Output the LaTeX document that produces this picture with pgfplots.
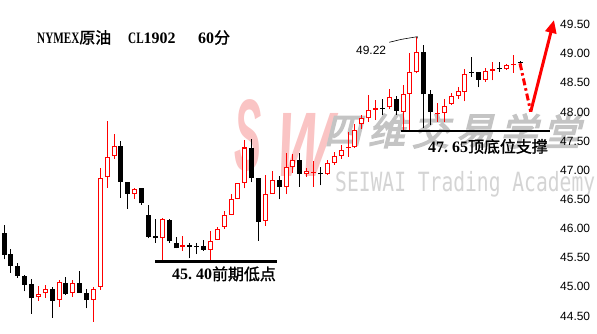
\documentclass[border=0pt]{standalone}
\usepackage{fontspec}
\setmainfont{Liberation Sans}
\newfontfamily\cjk[FakeBold=1.5]{Noto Sans CJK SC}
\newfontfamily\cjkwm[FakeBold=4]{Noto Sans CJK SC}
\newfontfamily\serifb{Liberation Serif}
\newfontfamily\serifn[FakeStretch=0.7]{Liberation Serif}
\newfontfamily\wmmono{DejaVu Sans Mono}
\usepackage{pgfplots}
\pgfplotsset{compat=1.18}
\usepackage{pgfplotstable}
\usetikzlibrary{arrows.meta}
\definecolor{candred}{RGB}{255,0,0}
\definecolor{wmpink}{RGB}{250,196,196}
\definecolor{wmgray}{RGB}{196,196,196}
\definecolor{wmgray2}{RGB}{212,212,212}

% i open high low close
\pgfplotstableread{
i o h l c
0 45.92 46.06 45.47 45.55
1 45.56 45.65 45.24 45.36
2 45.36 45.41 45.16 45.19
3 45.19 45.20 44.92 45.04
4 45.05 45.14 44.54 44.80
7 44.96 44.99 44.47 44.76
9 45.07 45.17 44.86 44.87
11 45.07 45.27 44.90 44.90
12 44.90 44.96 44.63 44.77
17 47.42 47.50 46.53 46.80
18 46.80 46.80 46.34 46.60
20 46.70 46.70 46.41 46.43
21 46.23 46.40 45.83 45.86
22 45.87 46.17 45.76 45.83
24 46.15 46.16 45.76 45.78
25 45.76 45.86 45.66 45.66
27 45.71 45.76 45.49 45.69
28 45.70 45.75 45.56 45.68
29 45.70 45.80 45.62 45.64
36 47.38 47.53 46.79 46.86
37 46.86 46.86 45.79 46.12
40 46.83 46.90 46.50 46.72
43 47.18 47.29 46.72 46.94
46 46.95 47.06 46.74 46.93
55 48.07 48.22 47.95 48.05
57 48.23 48.27 47.95 48.02
61 49.02 49.15 47.72 48.30
62 48.30 48.38 47.78 48.00
68 48.69 48.94 48.60 48.67
69 48.68 48.69 48.42 48.55
72 48.76 48.86 48.69 48.74
75 48.86 48.88 48.80 48.84
}\tdown

\pgfplotstableread{
i o h l c
5 44.82 45.01 44.76 44.87
6 44.89 45.03 44.81 44.97
8 44.77 45.12 44.66 45.08
10 44.89 45.12 44.83 45.07
13 44.77 44.99 44.40 44.97
14 45.00 47.03 44.95 46.86
15 46.88 47.85 46.70 47.22
16 47.24 47.62 47.20 47.41
19 46.60 46.70 46.51 46.67
23 45.83 46.18 45.46 46.17
30 45.64 45.96 45.46 45.79
31 45.81 46.02 45.80 46.00
32 46.03 46.30 46.00 46.24
33 46.24 46.60 46.23 46.50
34 46.51 46.78 46.50 46.78
35 46.78 47.52 46.69 47.39
38 46.13 46.92 46.05 46.59
39 46.59 46.99 46.59 46.83
41 46.71 47.29 46.59 47.05
42 47.05 47.27 46.95 47.18
44 46.93 47.03 46.89 46.98
47 46.94 47.18 46.92 47.12
48 47.13 47.31 47.09 47.24
49 47.25 47.43 47.20 47.35
51 47.39 47.80 47.38 47.69
52 47.80 47.94 47.70 47.89
53 47.89 48.29 47.83 48.04
56 48.08 48.39 48.05 48.25
58 48.00 48.46 47.69 48.31
59 48.31 49.01 47.69 48.68
60 48.68 49.28 48.66 49.02
64 47.98 48.22 47.82 48.10
65 48.14 48.32 48.12 48.27
66 48.28 48.42 48.23 48.36
67 48.35 48.74 48.18 48.65
70 48.55 48.75 48.52 48.70
73 48.73 48.83 48.72 48.80
}\tup

\pgfplotstableread{
i o h l c
26 45.69 45.87 45.62 45.71
45 46.95 47.15 46.72 46.97
50 47.38 47.66 47.23 47.40
54 48.04 48.20 47.86 48.06
63 47.97 48.15 47.83 47.99
71 48.71 48.86 48.54 48.73
74 48.81 48.98 48.67 48.83
}\tflat

\begin{document}
\begin{tikzpicture}
\path[use as bounding box] (0,0) rectangle (597bp,334bp);
% watermark
\node[wmpink, inner sep=0, xscale=0.4, font=\fontsize{102}{102}\selectfont\bfseries\itshape] at (248bp,198bp) {S};
\node[wmpink, inner sep=0, xscale=0.64, xslant=0.12, font=\fontsize{92}{92}\selectfont\bfseries\itshape] at (305bp,189bp) {W};
\node[wmgray, inner sep=0, xslant=0.25, font=\fontsize{37}{37}\selectfont\cjkwm] at (346bp,203bp) {四};
\node[wmgray, inner sep=0, xslant=0.25, font=\fontsize{37}{37}\selectfont\cjkwm] at (390bp,203bp) {维};
\node[wmgray, inner sep=0, xslant=0.25, font=\fontsize{37}{37}\selectfont\cjkwm] at (434bp,203bp) {交};
\node[wmgray, inner sep=0, xslant=0.25, font=\fontsize{37}{37}\selectfont\cjkwm] at (478bp,203bp) {易};
\node[wmgray, inner sep=0, xslant=0.25, font=\fontsize{37}{37}\selectfont\cjkwm] at (522bp,203bp) {学};
\node[wmgray, inner sep=0, xslant=0.25, font=\fontsize{37}{37}\selectfont\cjkwm] at (565bp,203bp) {堂};
\node[wmgray2, anchor=base west, inner sep=0, yscale=1.35, font=\fontsize{19.7}{20}\selectfont\wmmono] at (335bp,142bp) {SEIWAI Trading Academy};

\begin{axis}[
  at={(0,0)}, anchor=south west, scale only axis,
  width=556bp, height=334bp,
  xmin=-0.5814, xmax=80.233, ymin=44.191, ymax=49.920,
  axis line style={draw=none}, tick style={draw=none}, major tick length=0pt,
  xtick=\empty,
  ytick={44.5,45,45.5,46,46.5,47,47.5,48,48.5,49,49.5},
  yticklabel pos=right,
  yticklabel style={font=\fontsize{12}{14}\selectfont, anchor=west, inner sep=0pt, xshift=4bp},
  /pgf/number format/fixed, /pgf/number format/fixed zerofill,
  /pgf/number format/precision=2, /pgf/number format/assume math mode=true,
  clip=false,
]
% wicks
\addplot[draw=none, mark=none, forget plot, error bars/.cd, y dir=plus, y explicit, error mark=none,
  error bar style={draw=black, line width=1bp}]
  table[x=i, y=l, y error expr=\thisrow{h}-\thisrow{l}] {\tdown};
\addplot[draw=none, mark=none, forget plot, error bars/.cd, y dir=plus, y explicit, error mark=none,
  error bar style={draw=candred, line width=1bp}]
  table[x=i, y=l, y error expr=\thisrow{h}-\thisrow{l}] {\tup};
\addplot[draw=none, mark=none, forget plot, error bars/.cd, y dir=plus, y explicit, error mark=none,
  error bar style={draw=candred, line width=1bp}]
  table[x=i, y=l, y error expr=\thisrow{h}-\thisrow{l}] {\tflat};
% bodies
\addplot[draw=none, mark=none, forget plot, error bars/.cd, y dir=plus, y explicit, error mark=none,
  error bar style={draw=black, line width=5bp}]
  table[x=i, y=c, y error expr=\thisrow{o}-\thisrow{c}] {\tdown};
\addplot[draw=none, mark=none, forget plot, error bars/.cd, y dir=plus, y explicit, error mark=none,
  error bar style={draw=candred, line width=5bp}]
  table[x=i, y=o, y error expr=\thisrow{c}-\thisrow{o}] {\tup};
\addplot[draw=none, mark=none, forget plot, error bars/.cd, y dir=plus, y explicit, error mark=none,
  error bar style={draw=white, line width=3bp}]
  table[x=i, y expr=\thisrow{o}+0.0172, y error expr=\thisrow{c}-\thisrow{o}-0.0344] {\tup};
\addplot[draw=none, mark=none, forget plot, error bars/.cd, y dir=plus, y explicit, error mark=none,
  error bar style={draw=candred, line width=5bp}]
  table[x=i, y=o, y error expr=\thisrow{c}-\thisrow{o}] {\tflat};
% support lines
\addplot[black, line width=2.5bp, forget plot] coordinates {(21.95,45.438) (39.64,45.438)};
\addplot[black, line width=2.5bp, forget plot] coordinates {(57.66,47.670) (79.36,47.670)};
% 49.22 leader
\addplot[black, line width=0.6bp, forget plot] coordinates {(56.00,49.195) (57.80,49.246) (60.07,49.291) (60.07,49.262)};
% arrow
\addplot[candred, line width=3bp, dash pattern=on 7bp off 3bp on 2.5bp off 3bp, forget plot] coordinates {(75.0,48.834) (76.56,48.004)};
\addplot[candred, line width=3bp, -{Triangle[length=13bp,width=11bp]}, forget plot] coordinates {(76.56,48.004) (79.94,49.577)};
\end{axis}

% texts
\node[anchor=base west, inner sep=0, font=\fontsize{16}{18}\selectfont] at (37bp,290.5bp) {{\serifn\bfseries NYMEX}{\cjk 原油}};
\node[anchor=base west, inner sep=0, font=\fontsize{16}{18}\selectfont] at (128bp,290.5bp) {{\serifn\bfseries CL}{\serifb\bfseries 1902}};
\node[anchor=base west, inner sep=0, font=\fontsize{16}{18}\selectfont] at (198bp,290.5bp) {{\serifb\bfseries 60}{\cjk 分}};
\node[anchor=base west, inner sep=0, font=\fontsize{12}{14}\selectfont] at (356bp,279bp) {49.22};
\node[anchor=base west, inner sep=0, font=\fontsize{16}{18}\selectfont] at (172bp,54bp) {{\serifb\bfseries 45.\hspace{4bp}40}{\cjk 前期低点}};
\node[anchor=base west, inner sep=0, font=\fontsize{16}{18}\selectfont] at (428bp,181.5bp) {{\serifb\bfseries 47.\hspace{4bp}65}{\cjk 顶底位支撑}};
\end{tikzpicture}
\end{document}
